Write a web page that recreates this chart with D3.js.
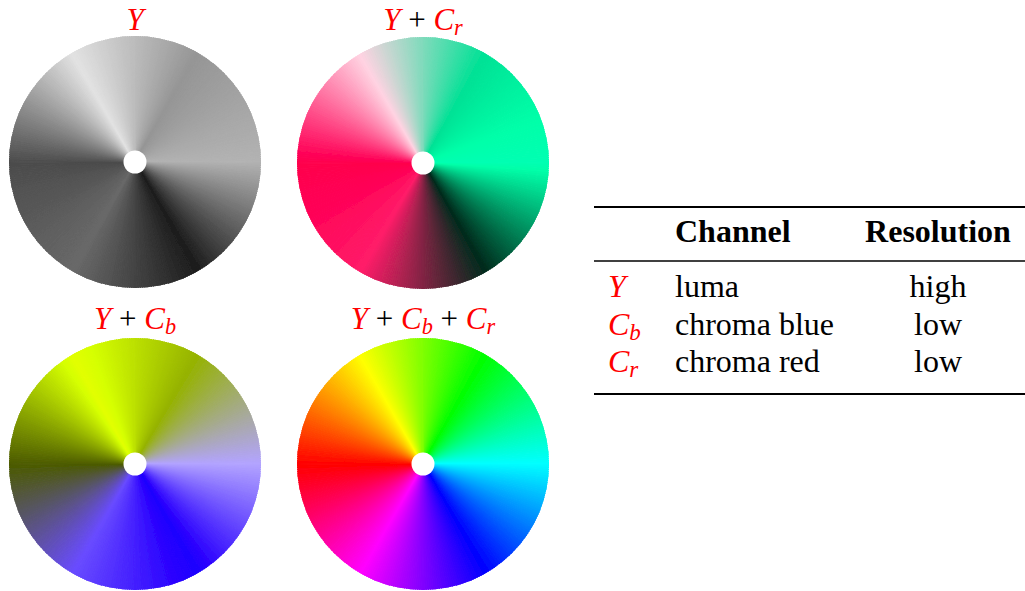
<!DOCTYPE html>
<html><head><meta charset="utf-8">
<script src="https://cdn.jsdelivr.net/npm/d3@7"></script>
<style>html,body{margin:0;padding:0;background:#fff;}svg{display:block;}</style>
</head><body>
<svg id="chart" width="1025" height="591"></svg>
<script>
// ---- data ----
const hueStops  = [0, 60, 120, 180, 240, 300, 360];
const hueColors = ["#ff0000", "#ffff00", "#00ff00", "#00ffff", "#0000ff", "#ff00ff", "#ff0000"];
const panelModes = ["Y", "Y+Cr", "Y+Cb", "Y+Cb+Cr"];
const panelTitles = [
  [["Y","v"]],
  [["Y","v"],["+","o"],["C","v"],["r","s"]],
  [["Y","v"],["+","o"],["C","v"],["b","s"]],
  [["Y","v"],["+","o"],["C","v"],["b","s"],["+","o"],["C","v"],["r","s"]]
];
const tableHeaders = ["Channel", "Resolution"];
const channelSymbols = [[["Y","v"]], [["C","v"],["b","s"]], [["C","v"],["r","s"]]];
const channelNames = ["luma", "chroma blue", "chroma red"];
const channelResolutions = ["high", "low", "low"];

// ---- layout ----
const svg = d3.select("#chart");
const serif = "Liberation Serif, Times New Roman, Times, serif";
const centers = [[135,162],[423,163],[135,464],[423,464]];
const titleY = [30, 30, 329, 329];
const R = 126, hole = 11.5;

const hueScale = d3.scaleLinear().domain(hueStops).range(hueColors).interpolate(d3.interpolateRgb);
const angleToHue = a => ((a + 90) % 360 + 360) % 360;

function ycc(c){
  const Y = 0.299*c.r + 0.587*c.g + 0.114*c.b;
  const Cb = -0.168736*c.r - 0.331264*c.g + 0.5*c.b;
  const Cr = 0.5*c.r - 0.418688*c.g - 0.081312*c.b;
  return {Y, Cb, Cr};
}
function toRgb(Y, Cb, Cr){
  const cl = v => Math.max(0, Math.min(255, Math.round(v)));
  return d3.rgb(cl(Y + 1.402*Cr), cl(Y - 0.344136*Cb - 0.714136*Cr), cl(Y + 1.772*Cb));
}
function colorFor(mode, hue){
  const c = d3.rgb(hueScale(hue));
  const {Y, Cb, Cr} = ycc(c);
  if (mode === "Y") return toRgb(Y, 0, 0);
  if (mode === "Y+Cr") return toRgb(Y, 0, Cr);
  if (mode === "Y+Cb") return toRgb(Y, Cb, 0);
  return toRgb(Y, Cb, Cr);
}

const defs = svg.append("defs");
defs.append("filter").attr("id","soft").attr("x","-5%").attr("y","-5%").attr("width","110%").attr("height","110%")
  .append("feGaussianBlur").attr("stdDeviation", 0.7);
defs.append("clipPath").attr("id","disc").append("circle").attr("r", R);

const step = 1;
const angles = d3.range(0, 360, step);
const arc = d3.arc().innerRadius(0).outerRadius(R + 4);
const toRad = d => d * Math.PI / 180;

panelModes.forEach((mode, i) => {
  const [cx, cy] = centers[i];
  const outer = svg.append("g").attr("transform", `translate(${cx},${cy})`).attr("filter","url(#soft)");
  const g = outer.append("g").attr("clip-path","url(#disc)");
  g.selectAll("path").data(angles).join("path")
    .attr("d", a => arc({startAngle: toRad(a - step*0.5), endAngle: toRad(a + step*0.5)}))
    .attr("fill", a => colorFor(mode, angleToHue(a)).formatHex())
    .attr("stroke", a => colorFor(mode, angleToHue(a)).formatHex())
    .attr("stroke-width", 1.2)
    .attr("stroke-linejoin","round");
  outer.append("circle").attr("r", hole).attr("fill", "#fff");

  const t = svg.append("text").attr("x", cx).attr("y", titleY[i])
    .attr("text-anchor","middle").attr("font-family", serif).attr("font-size", 31);
  addParts(t, panelTitles[i]);
});

function addParts(t, parts){
  let sub = false;
  parts.forEach(([s, kind]) => {
    const ts = t.append("tspan").text(kind === "o" ? ` ${s} ` : s);
    if (kind === "o") { ts.attr("fill","#000").attr("font-style","normal"); }
    else { ts.attr("fill","#ff0000").attr("font-style","italic"); }
    if (kind === "s") { ts.attr("font-size","0.72em").attr("dy", 5); sub = true; }
    else if (sub) { ts.attr("dy", -5); sub = false; }
  });
}

// ---- table ----
const tx0 = 594, tx1 = 1025;
const colSym = 608, colName = 675, colRes = 938;
svg.append("line").attr("x1",tx0).attr("x2",tx1).attr("y1",207).attr("y2",207).attr("stroke","#000").attr("stroke-width",2.2);
svg.append("line").attr("x1",tx0).attr("x2",tx1).attr("y1",261).attr("y2",261).attr("stroke","#000").attr("stroke-width",1.3);
svg.append("line").attr("x1",tx0).attr("x2",tx1).attr("y1",394).attr("y2",394).attr("stroke","#000").attr("stroke-width",2.2);

svg.append("text").attr("x", colName).attr("y", 242).attr("font-family", serif).attr("font-size", 32)
  .attr("font-weight","bold").text(tableHeaders[0]);
svg.append("text").attr("x", colRes).attr("y", 242).attr("text-anchor","middle").attr("font-family", serif)
  .attr("font-size", 32).attr("font-weight","bold").text(tableHeaders[1]);

const rowY = d3.scalePoint().domain(channelNames).range([297, 372]);
channelNames.forEach((name, i) => {
  const y = rowY(name);
  const s = svg.append("text").attr("x", colSym).attr("y", y).attr("font-family", serif).attr("font-size", 32);
  addParts(s, channelSymbols[i]);
  svg.append("text").attr("x", colName).attr("y", y).attr("font-family", serif).attr("font-size", 32).text(name);
  svg.append("text").attr("x", colRes).attr("y", y).attr("text-anchor","middle").attr("font-family", serif)
    .attr("font-size", 32).text(channelResolutions[i]);
});
</script>
</body></html>
